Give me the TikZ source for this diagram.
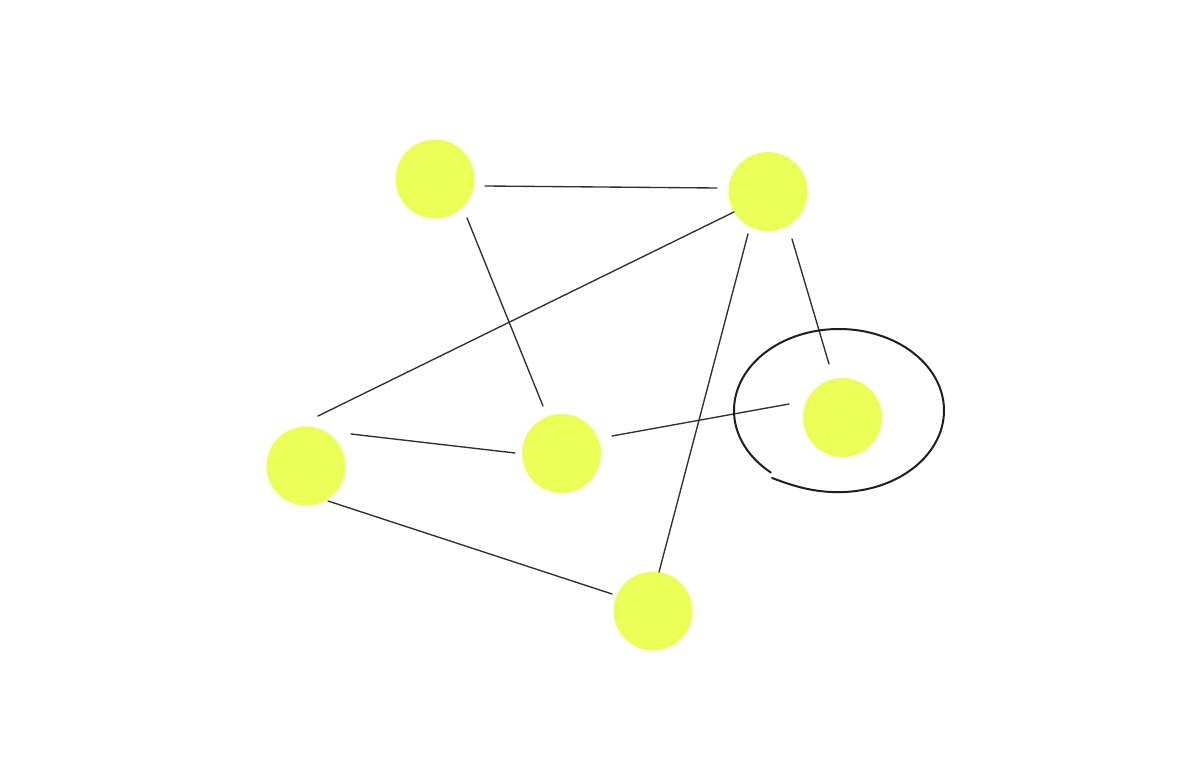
\documentclass[tikz,border=0pt]{standalone}
\usetikzlibrary{calc}
\definecolor{dotfill}{HTML}{EBFF57}
\definecolor{inkline}{HTML}{303030}
\begin{document}
\begin{tikzpicture}[x=1pt,y=-1pt,
  dot/.style={circle,fill=dotfill,draw=none,minimum size=79pt,inner sep=0pt},
  edge/.style={draw=inkline,line width=1.35pt,line cap=round},
  loop/.style={draw=black!88,line width=2pt,line cap=round}]
\useasboundingbox[fill=white] (0,0) rectangle (1200,783);
\node[dot] (A) at (435,179) {};
\node[dot] (B) at (768,191.5) {};
\node[dot] (C) at (842.5,417.5) {};
\node[dot] (D) at (561.5,453.5) {};
\node[dot] (E) at (306,466) {};
\node[dot] (F) at (653,611) {};
% edges
\draw[edge] ($(A)+(50,7)$) -- ($(B)+(-51,-3.5)$);
\draw[edge] ($(A)+(32,39)$) -- ($(D)+(-18.5,-47.5)$);
\draw[edge] ($(B)+(-34,20.5)$) -- ($(E)+(12,-50)$);
\draw[edge] ($(B)+(-20,42.5)$) -- ($(F)+(6,-39)$);
\draw[edge] ($(B)+(24,47.5)$) -- ($(C)+(-13.5,-53.5)$);
\draw[edge] ($(D)+(50.5,-17.5)$) -- ($(C)+(-53.5,-13.5)$);
\draw[edge] ($(E)+(45,-32)$) -- ($(D)+(-46.5,-0.5)$);
\draw[edge] ($(E)+(22,35)$) -- ($(F)+(-41,-17)$);
% open loop around C
\coordinate (Lc) at ($(C)+(-3.5,-7)$);
\begin{scope}[shift={(Lc)}]
\draw[loop] plot[smooth,samples=240,domain=-229.5:127.6]
  ({105*(1+0.045*exp(-(127.6-\x)/12))*cos(\x)},{81.5*(1+0.045*exp(-(127.6-\x)/12))*sin(\x)});
\end{scope}
\end{tikzpicture}
\end{document}
